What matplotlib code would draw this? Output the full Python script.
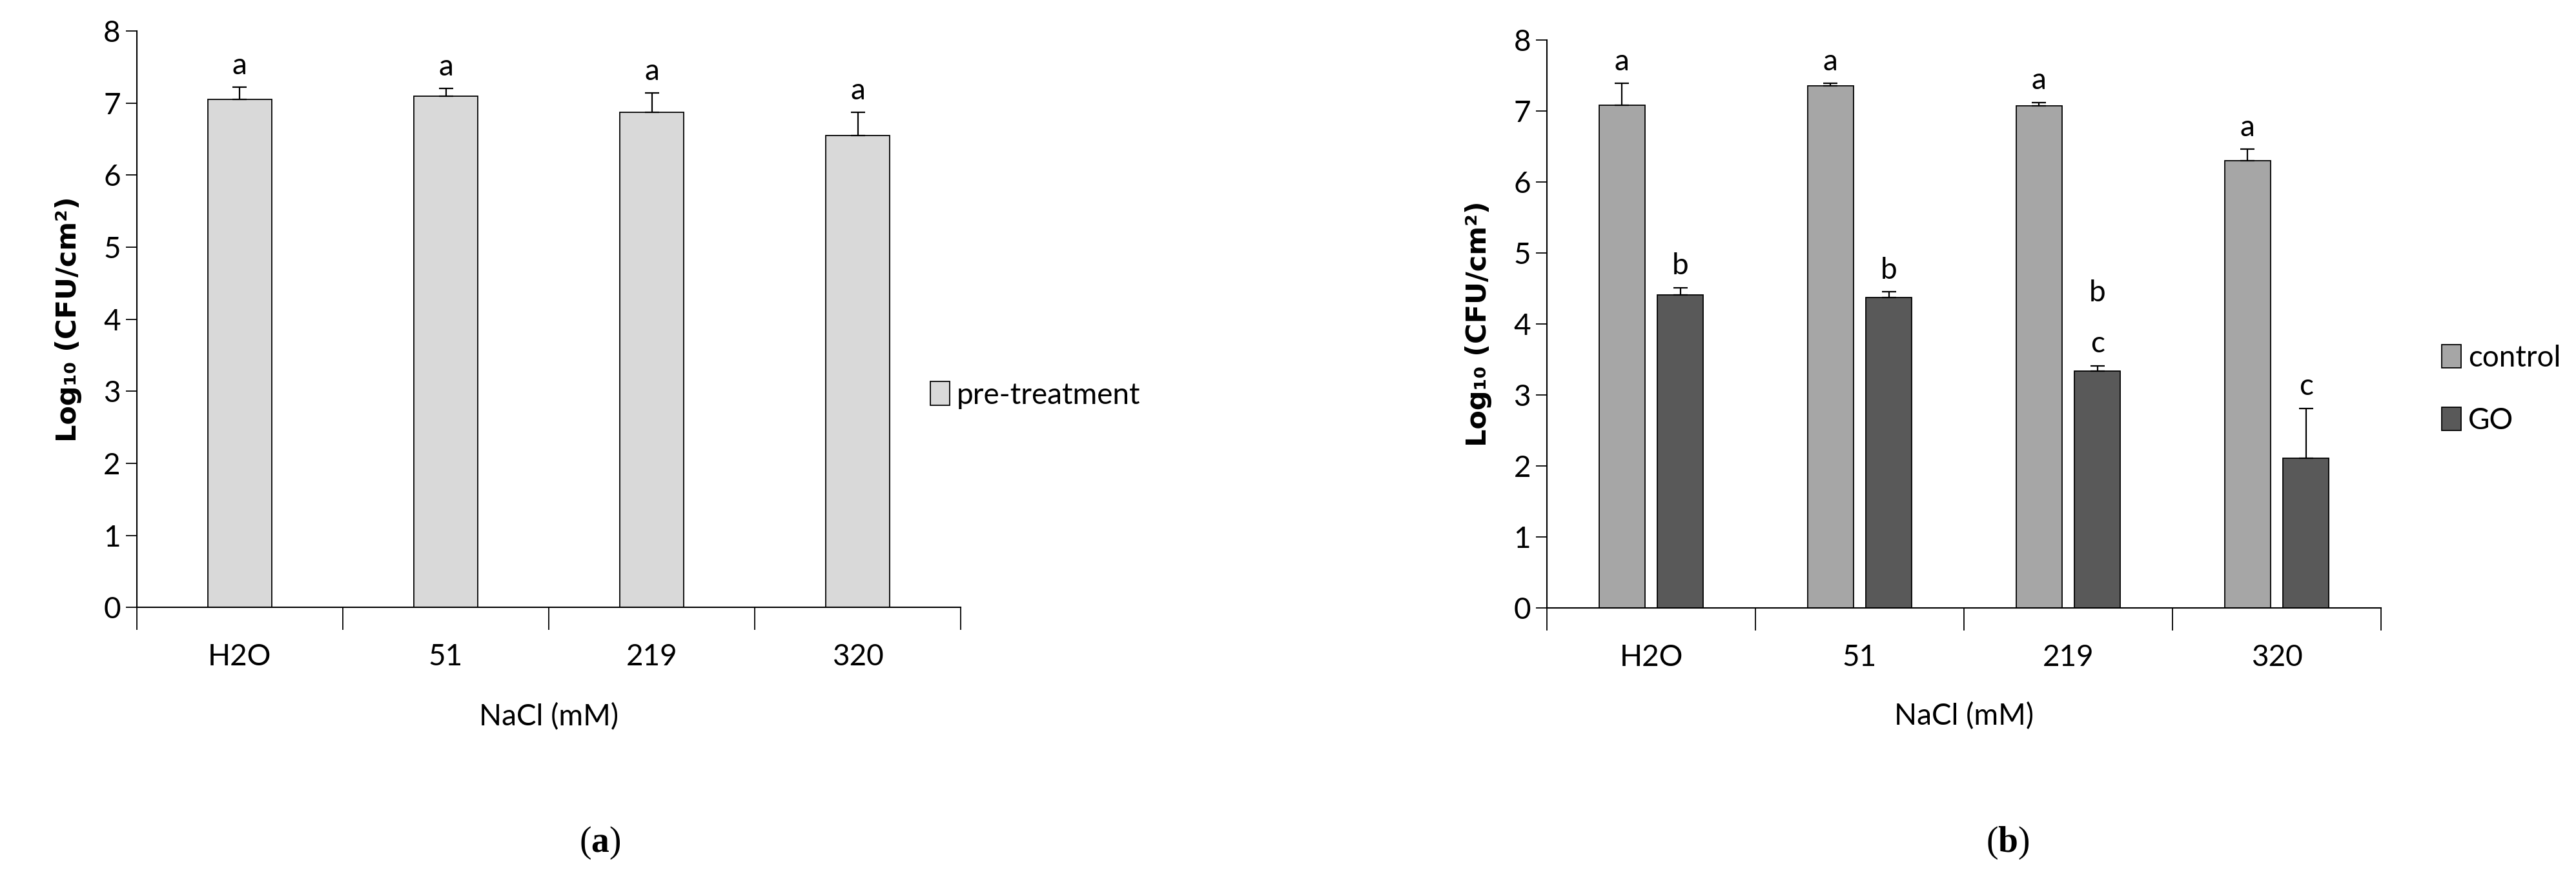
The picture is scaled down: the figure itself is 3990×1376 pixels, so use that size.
import matplotlib
matplotlib.use("Agg")
import matplotlib.pyplot as plt
import numpy as np

# data
categories = ["H2O", "51", "219", "320"]

pre_mean = [7.05, 7.10, 6.87, 6.55]
pre_err = [0.17, 0.10, 0.27, 0.32]
pre_letters = ["a", "a", "a", "a"]

ctrl_mean = [7.08, 7.35, 7.07, 6.30]
ctrl_err = [0.31, 0.04, 0.05, 0.16]
ctrl_letters = ["a", "a", "a", "a"]

go_mean = [4.41, 4.37, 3.34, 2.11]
go_err = [0.10, 0.08, 0.07, 0.70]
go_letters = ["b", "b", "b\nc", "c"]

plt.rcParams['mathtext.fontset'] = 'custom'
plt.rcParams['mathtext.rm'] = 'Liberation Serif'
plt.rcParams['mathtext.bf'] = 'Liberation Serif:bold'

TICK_FONT = "Lato"
FS = 33


def style_axes(ax):
    x = np.arange(len(categories))
    ax.set_xlim(-0.5, len(categories) - 0.5)
    ax.set_ylim(0, 8)
    ax.set_yticks(range(0, 9))
    ax.set_xticks(np.arange(-0.5, len(categories)))
    ax.set_xticklabels([])
    ax.set_xticks(x, minor=True)
    ax.set_xticklabels(categories, minor=True)
    ax.tick_params(axis='x', which='major', direction='out', length=25, width=1.3)
    ax.tick_params(axis='x', which='minor', length=0, pad=40)
    ax.tick_params(axis='y', direction='out', length=12, width=1.3, pad=6)
    for lab in ax.get_xticklabels(minor=True) + ax.get_yticklabels():
        lab.set_fontfamily(TICK_FONT)
        lab.set_fontsize(FS)
    for s in ['top', 'right']:
        ax.spines[s].set_visible(False)
    for s in ['left', 'bottom']:
        ax.spines[s].set_linewidth(1.5)
    ax.set_ylabel("Log₁₀ (CFU/cm²)", family="DejaVu Sans", fontweight='bold',
                  fontsize=31, labelpad=24)
    ax.set_xlabel("NaCl (mM)", family=TICK_FONT, fontsize=FS)
    ax.xaxis.set_label_coords(0.5, -0.19)
    ax.xaxis.label.set_va('center')


def draw_bars(ax, xpos, means, errs, letters, color, width, label):
    ax.bar(xpos, means, width=width, color=color, edgecolor='black',
           linewidth=1.3, label=label, zorder=2)
    ax.errorbar(xpos, means, yerr=[np.zeros(len(errs)), errs], fmt='none',
                ecolor='black', elinewidth=1.6, capsize=8, capthick=1.6, zorder=3)
    for xi, m, e, t in zip(xpos, means, errs, letters):
        ax.annotate(t, (xi, m + e), xytext=(0, 9), textcoords='offset points',
                    ha='center', va='bottom', family=TICK_FONT, fontsize=FS,
                    linespacing=2.1)


fig = plt.figure(figsize=(39.9, 13.76), dpi=100)

# (a) pre-treatment
ax1 = fig.add_axes([0.0531, 0.316, 0.3199, 0.649])
x = np.arange(len(categories))
draw_bars(ax1, x, pre_mean, pre_err, pre_letters, '#d9d9d9', 0.31, 'pre-treatment')
style_axes(ax1)
ax1.legend(loc='center left', bbox_to_anchor=(0.945, 0.368), frameon=False,
           prop={'family': TICK_FONT, 'size': FS}, handlelength=0.65,
           handleheight=0.85, handletextpad=0.25, borderpad=0)

# (b) control vs GO
ax2 = fig.add_axes([0.6005, 0.3154, 0.3238, 0.6396])
draw_bars(ax2, x - 0.14, ctrl_mean, ctrl_err, ctrl_letters, '#a6a6a6', 0.22, 'control')
draw_bars(ax2, x + 0.14, go_mean, go_err, go_letters, '#595959', 0.22, 'GO')
style_axes(ax2)
ax2.legend(loc='center left', bbox_to_anchor=(1.055, 0.385), frameon=False,
           prop={'family': TICK_FONT, 'size': FS}, handlelength=0.65,
           handleheight=0.85, handletextpad=0.25, borderpad=0, labelspacing=1.2)

fig.text(0.2328, 0.051, r'($\mathbf{a}$)', ha='center', va='center', fontsize=40,
         family='Liberation Serif')
fig.text(0.7794, 0.051, r'($\mathbf{b}$)', ha='center', va='center', fontsize=40,
         family='Liberation Serif')

fig.savefig("out.png", dpi=100, facecolor='white')
